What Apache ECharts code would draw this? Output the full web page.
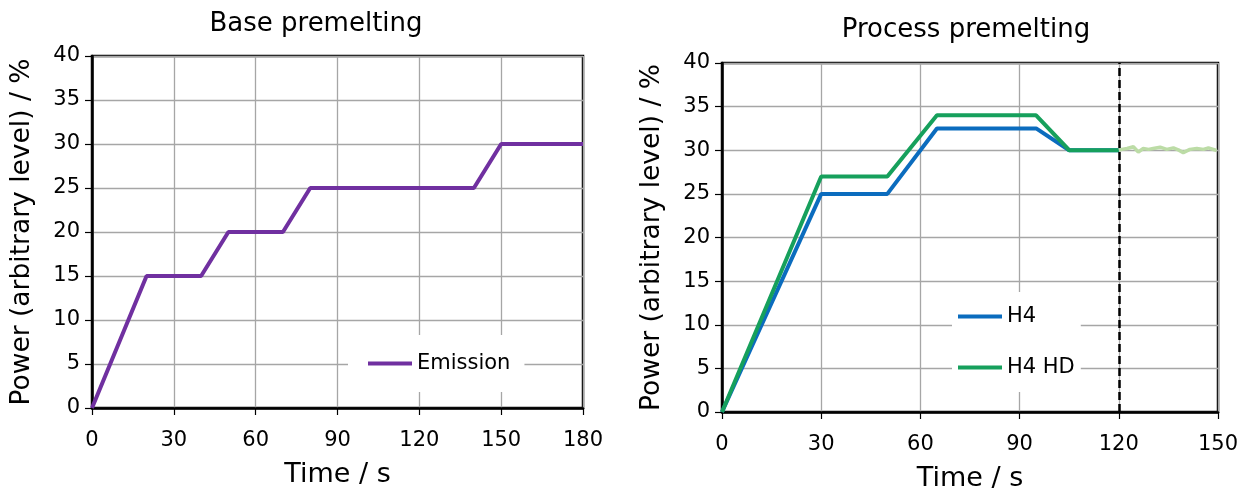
<!DOCTYPE html>
<html>
<head>
<meta charset="utf-8">
<script src="https://cdn.jsdelivr.net/npm/echarts@6/dist/echarts.min.js"></script>
<style>
  html, body { margin: 0; padding: 0; background: #fff; }
  #chart { width: 1244px; height: 491px; }
</style>
</head>
<body>
<div id="chart"></div>
<script>
// ---- data ----
const leftTitle = "Base premelting";
const rightTitle = "Process premelting";
const xName = "Time / s";
const yName = "Power (arbitrary level) / %";

const emissionTime  = [0, 20, 40, 50, 70, 80, 140, 150, 180];
const emissionPower = [0, 15, 15, 20, 20, 25, 25, 30, 30];

const h4Time  = [0, 30, 50, 65, 95, 105, 120];
const h4Power = [0, 25, 25, 32.5, 32.5, 30, 30];

const h4hdTime  = [0, 30, 50, 65, 95, 105, 120];
const h4hdPower = [0, 27, 27, 34, 34, 30, 30];

const h4hdAfterTime  = [120, 120.9, 122.5, 124.4, 125.9, 127.4, 129, 130.4, 132.5, 134.5, 136.5, 138, 139.5, 141.5, 143.6, 145.6, 147.1, 149.6];
const h4hdAfterPower = [30, 30.1, 30.2, 30.4, 29.8, 30.2, 30.1, 30.2, 30.35, 30.1, 30.27, 30.04, 29.73, 30.1, 30.2, 30.1, 30.27, 29.97];

const stopTime = 120;

// ---- build ----
const pairs = (xs, ys) => xs.map((x, i) => [x, ys[i]]);
const FONT = "DejaVu Sans";
const C_PURPLE = "#7030a0";
const C_BLUE = "#0b6cbe";
const C_GREEN = "#16a05c";
const C_LIGHT = "#bcdca6";

function xAxisOpt(gridIndex, max) {
  return {
    type: "value", gridIndex, min: 0, max, interval: 30,
    name: xName, nameLocation: "middle", nameGap: 53,
    nameTextStyle: { fontFamily: FONT, fontSize: 27, color: "#000" },
    axisLine: { show: true, lineStyle: { color: "#000", width: 2.5 } },
    axisTick: { show: true, length: 7, lineStyle: { color: "#000", width: 1.2 } },
    axisLabel: { fontFamily: FONT, fontSize: 21, color: "#000", margin: 22 },
    splitLine: { show: true, lineStyle: { color: "#a6a6a6", width: 1.3 } }
  };
}
function yAxisOpt(gridIndex) {
  return {
    type: "value", gridIndex, min: 0, max: 40, interval: 5,
    name: yName, nameLocation: "middle", nameGap: 56,
    nameTextStyle: { fontFamily: FONT, fontSize: 26.5, color: "#000" },
    axisLine: { show: true, lineStyle: { color: "#000", width: 2.5 } },
    axisTick: { show: true, length: 7, lineStyle: { color: "#000", width: 1.2 } },
    axisLabel: { fontFamily: FONT, fontSize: 21, color: "#000", margin: 12 },
    splitLine: { show: true, lineStyle: { color: "#a6a6a6", width: 1.3 } }
  };
}

const option = {
  animation: false,
  backgroundColor: "#fff",
  title: [
    { text: leftTitle, left: 311, top: 6, textAlign: "center",
      textStyle: { fontFamily: FONT, fontSize: 26, fontWeight: "normal", color: "#000" } },
    { text: rightTitle, left: 961, top: 12, textAlign: "center",
      textStyle: { fontFamily: FONT, fontSize: 26, fontWeight: "normal", color: "#000" } }
  ],
  grid: [
    { left: 92, right: 661, top: 56, bottom: 83, show: true, borderColor: "#000", borderWidth: 2.5,
      containLabel: false, outerBoundsMode: "none" },
    { left: 722, right: 26, top: 63, bottom: 79, show: true, borderColor: "#000", borderWidth: 2.5,
      containLabel: false, outerBoundsMode: "none" }
  ],
  xAxis: [xAxisOpt(0, 180), xAxisOpt(1, 150)],
  yAxis: [yAxisOpt(0), yAxisOpt(1)],
  legend: [
    { data: ["Emission"], left: 348, top: 335, orient: "horizontal",
      backgroundColor: "#fff", padding: [18, 14, 18, 20],
      icon: "rect", itemWidth: 44, itemHeight: 4,
      textStyle: { fontFamily: FONT, fontSize: 21, color: "#000" } },
    { data: ["H4", "H4 HD"], left: 952, top: 292, orient: "vertical",
      backgroundColor: "#fff", padding: [14, 6, 14, 6], itemGap: 30,
      icon: "rect", itemWidth: 44, itemHeight: 4,
      textStyle: { fontFamily: FONT, fontSize: 21, color: "#000" } }
  ],
  series: [
    { name: "Emission", type: "line", xAxisIndex: 0, yAxisIndex: 0,
      data: pairs(emissionTime, emissionPower), showSymbol: false,
      lineStyle: { color: C_PURPLE, width: 4 }, itemStyle: { color: C_PURPLE } },
    { name: "H4", type: "line", xAxisIndex: 1, yAxisIndex: 1,
      data: pairs(h4Time, h4Power), showSymbol: false,
      lineStyle: { color: C_BLUE, width: 4 }, itemStyle: { color: C_BLUE } },
    { name: "H4 HD", type: "line", xAxisIndex: 1, yAxisIndex: 1,
      data: pairs(h4hdTime, h4hdPower), showSymbol: false,
      lineStyle: { color: C_GREEN, width: 4 }, itemStyle: { color: C_GREEN } },
    { name: "H4 HD (after)", type: "line", xAxisIndex: 1, yAxisIndex: 1,
      data: pairs(h4hdAfterTime, h4hdAfterPower), showSymbol: false,
      lineStyle: { color: C_LIGHT, width: 3.5 }, itemStyle: { color: C_LIGHT },
      markLine: {
        silent: true, symbol: ["none", "none"], label: { show: false },
        lineStyle: { color: "#000", type: [8, 4], width: 2.5 },
        data: [{ xAxis: stopTime }]
      } }
  ]
};

const chart = echarts.init(document.getElementById("chart"));
chart.setOption(option);
</script>
</body>
</html>
